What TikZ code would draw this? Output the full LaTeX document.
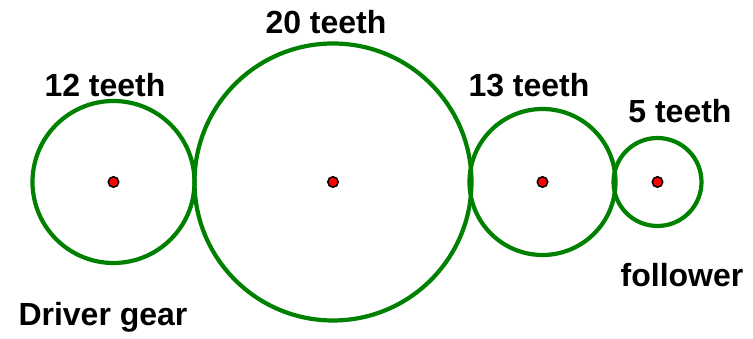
\documentclass[tikz,border=0pt]{standalone}
\usepackage{fontspec}
\setmainfont{Liberation Sans}
\usepackage{tikz}
\usetikzlibrary{positioning}
\definecolor{geargreen}{HTML}{008000}
\definecolor{pivotred}{HTML}{FF0000}
\tikzset{
  gear/.style={circle,draw=geargreen,line width=4.2pt,inner sep=0pt},
  pivot/.style={circle,draw=black,fill=pivotred,line width=1.5pt,
    minimum size=10.5pt,inner sep=0pt},
  tag/.style={anchor=base,inner sep=0pt,
    font=\fontsize{32}{32}\selectfont\bfseries}
}
\begin{document}
\begin{tikzpicture}[x=1pt,y=1pt]
  \useasboundingbox (0,0) rectangle (753,339);
  % the four gears, left to right
  \node[gear,minimum size=162pt] (driver) at (113.5,157) {};
  \node[gear,minimum size=277pt] (big) at (333,157) {};
  \node[gear,minimum size=146pt] (mid) at (542.5,157) {};
  \node[gear,minimum size=88pt] (follow) at (657.5,157) {};
  \node[pivot] (p1) at (driver.center) {};
  \node[pivot] (p2) at (big.center) {};
  \node[pivot] (p3) at (mid.center) {};
  \node[pivot] (p4) at (follow.center) {};
  % labels
  \node[tag] (t1) at (105,242) {12 teeth};
  \node[tag] (t2) at (326,305) {20 teeth};
  \node[tag] (t3) at (529,242) {13 teeth};
  \node[tag] (t4) at (680,216) {5 teeth};
  \node[tag] (lfollow) at (682,52) {follower};
  \node[tag] (ldriver) at (103,13) {Driver gear};
\end{tikzpicture}
\end{document}
